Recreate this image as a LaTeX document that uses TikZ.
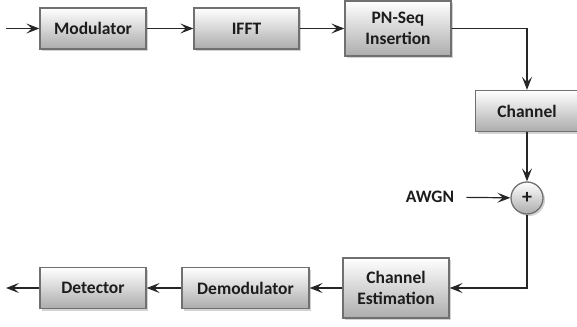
\documentclass[tikz,border=0pt]{standalone}
\usepackage{fontspec}
\setmainfont{Carlito}
\usetikzlibrary{arrows.meta,positioning,shadows}
\definecolor{cedge}{RGB}{112,112,112}
\definecolor{ctext}{RGB}{28,28,28}

\begin{document}
\begin{tikzpicture}[x=1pt, y=-1pt,
  blk/.style={draw=cedge, line width=1.3pt, top color=white, bottom color=gray!65,
              drop shadow={opacity=0.35, shadow xshift=2pt, shadow yshift=-2pt},
              minimum width=106pt, minimum height=41pt, inner sep=0pt, align=center,
              text=ctext, font=\fontsize{17.5}{21}\selectfont\bfseries},
  sumnode/.style={circle, draw=cedge, line width=1.3pt, top color=white, bottom color=gray!65,
              drop shadow={opacity=0.35, shadow xshift=2pt, shadow yshift=-2pt},
              minimum size=32pt, inner sep=0pt, text=ctext, font=\fontsize{20}{22}\selectfont\bfseries},
  sig/.style={-{Stealth[length=13pt, width=10pt, inset=5.5pt]}, line width=1.2pt, black!85}]

  \useasboundingbox (0,0) rectangle (577,326);

  % transmitter chain
  \coordinate (in) at (6,28.5);
  \node[blk] (mod)  at (93,28.5)  {Modulator};
  \node[blk, minimum width=105pt] (ifft) at (246.5,28.5) {IFFT};
  \node[blk, minimum height=55pt] (pn) at (398,28.5) {PN-Seq\\Insertion};

  % channel and noise
  \node[blk, minimum width=103pt] (chan) at (527,111) {Channel};
  \node[sumnode] (sum) at (527,198) {+};
  \node[text=ctext, font=\fontsize{17.5}{21}\selectfont\bfseries, inner xsep=12pt] (awgn) at (430,197) {AWGN};

  % receiver chain
  \node[blk, minimum height=60pt] (est) at (396,288) {Channel\\Estimation};
  \node[blk, minimum width=127pt] (demod) at (245.5,288) {Demodulator};
  \node[blk] (det) at (93,288) {Detector};
  \coordinate (out) at (6,288);

  \draw[sig] (in) -- (mod);
  \draw[sig] (mod) -- (ifft);
  \draw[sig] (ifft) -- (pn);
  \draw[sig] (pn.east) -| (chan.north);
  \draw[sig] (chan) -- (sum);
  \draw[sig] (awgn) -- (sum);
  \draw[sig] (sum) |- (est);
  \draw[sig] (est) -- (demod);
  \draw[sig] (demod) -- (det);
  \draw[sig] (det) -- (out);
\end{tikzpicture}
\end{document}
